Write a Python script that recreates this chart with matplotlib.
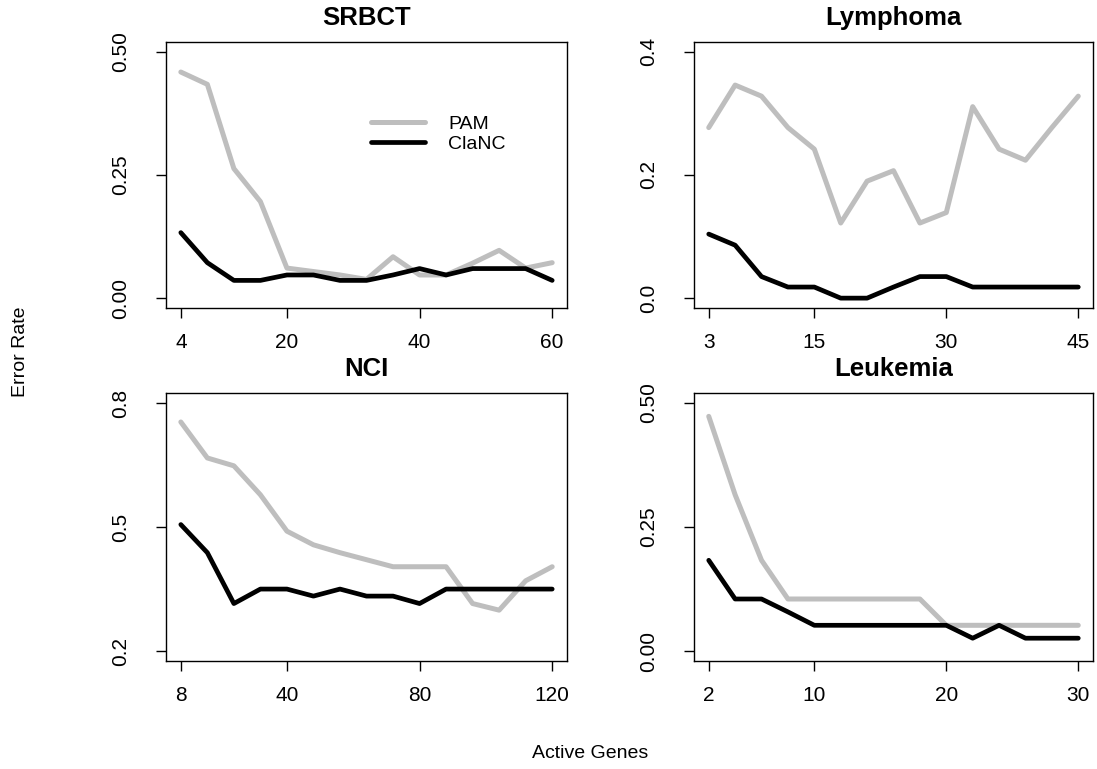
import matplotlib
matplotlib.use("Agg")
import matplotlib.pyplot as plt

plt.rcParams['font.family'] = ['Liberation Sans', 'DejaVu Sans']

# SRBCT
srbct_x = [4, 8, 12, 16, 20, 24, 28, 32, 36, 40, 44, 48, 52, 56, 60]
srbct_pam = [0.459, 0.434, 0.263, 0.196, 0.061, 0.054, 0.047, 0.038, 0.084, 0.047, 0.047, 0.071, 0.097, 0.061, 0.072]
srbct_clanc = [0.133, 0.072, 0.036, 0.036, 0.047, 0.047, 0.036, 0.036, 0.047, 0.060, 0.047, 0.060, 0.060, 0.060, 0.036]

# Lymphoma
lymph_x = [3, 6, 9, 12, 15, 18, 21, 24, 27, 30, 33, 36, 39, 42, 45]
lymph_pam = [0.277, 0.346, 0.328, 0.277, 0.242, 0.122, 0.190, 0.207, 0.122, 0.139, 0.311, 0.242, 0.224, 0.277, 0.328]
lymph_clanc = [0.104, 0.086, 0.035, 0.018, 0.018, 0.0, 0.0, 0.018, 0.035, 0.035, 0.018, 0.018, 0.018, 0.018, 0.018]

# NCI
nci_x = [8, 16, 24, 32, 40, 48, 56, 64, 72, 80, 88, 96, 104, 112, 120]
nci_pam = [0.754, 0.667, 0.648, 0.578, 0.490, 0.457, 0.438, 0.421, 0.404, 0.404, 0.404, 0.315, 0.299, 0.370, 0.404]
nci_clanc = [0.506, 0.438, 0.315, 0.350, 0.350, 0.333, 0.350, 0.333, 0.333, 0.315, 0.350, 0.350, 0.350, 0.350, 0.350]

# Leukemia
leuk_x = [2, 4, 6, 8, 10, 12, 14, 16, 18, 20, 22, 24, 26, 28, 30]
leuk_pam = [0.473, 0.315, 0.183, 0.105, 0.105, 0.105, 0.105, 0.105, 0.105, 0.052, 0.052, 0.052, 0.052, 0.052, 0.052]
leuk_clanc = [0.183, 0.105, 0.105, 0.079, 0.052, 0.052, 0.052, 0.052, 0.052, 0.052, 0.026, 0.052, 0.026, 0.026, 0.026]

panels = [
    ("SRBCT", srbct_x, srbct_pam, srbct_clanc, [4, 20, 40, 60], (0, 0.5), [0.0, 0.25, 0.5], ["0.00", "0.25", "0.50"]),
    ("Lymphoma", lymph_x, lymph_pam, lymph_clanc, [3, 15, 30, 45], (0, 0.4), [0.0, 0.2, 0.4], ["0.0", "0.2", "0.4"]),
    ("NCI", nci_x, nci_pam, nci_clanc, [8, 40, 80, 120], (0.2, 0.8), [0.2, 0.5, 0.8], ["0.2", "0.5", "0.8"]),
    ("Leukemia", leuk_x, leuk_pam, leuk_clanc, [2, 10, 20, 30], (0, 0.5), [0.0, 0.25, 0.5], ["0.00", "0.25", "0.50"]),
]

# axes boxes in figure fractions: left, bottom, width, height
boxes = [
    [0.1513, 0.5995, 0.3656, 0.3459],
    [0.6326, 0.5995, 0.3638, 0.3459],
    [0.1513, 0.1404, 0.3656, 0.3485],
    [0.6326, 0.1404, 0.3638, 0.3485],
]

fig = plt.figure(figsize=(10.97, 7.69), dpi=100)

for i, (name, x, pam, clanc, xt, ylim, yt, ylab) in enumerate(panels):
    ax = fig.add_axes(boxes[i])
    ax.plot(x, pam, color="#bebebe", lw=3.6, solid_capstyle="round", solid_joinstyle="round", label="PAM")
    ax.plot(x, clanc, color="black", lw=3.4, solid_capstyle="round", solid_joinstyle="round", label="ClaNC")

    dx = (x[-1] - x[0]) * 0.04
    dy = (ylim[1] - ylim[0]) * 0.04
    ax.set_xlim(x[0] - dx, x[-1] + dx)
    ax.set_ylim(ylim[0] - dy, ylim[1] + dy)
    ax.set_xticks(xt)
    ax.set_xticklabels([str(v) for v in xt])
    ax.set_yticks(yt)
    ax.set_yticklabels(ylab, rotation=90, va="center")
    ax.tick_params(direction="out", length=7, width=1.0, labelsize=15)
    ax.tick_params(axis="x", pad=11)
    ax.tick_params(axis="y", pad=19)
    for s in ax.spines.values():
        s.set_linewidth(1.0)
    ax.set_title(name, fontsize=18.5, fontweight="bold", pad=12)

    if i == 0:
        ax.legend(loc="upper left", bbox_to_anchor=(0.51, 0.725), frameon=False,
                  fontsize=14, handlelength=2.8, handletextpad=1.2,
                  labelspacing=0.15, borderpad=0, borderaxespad=0)

fig.text(0.019, 0.542, "Error Rate", rotation=90, ha="center", va="center", fontsize=14)
fig.text(0.538, 0.02, "Active Genes", ha="center", va="center", fontsize=14)

fig.savefig("out.png", dpi=100)
